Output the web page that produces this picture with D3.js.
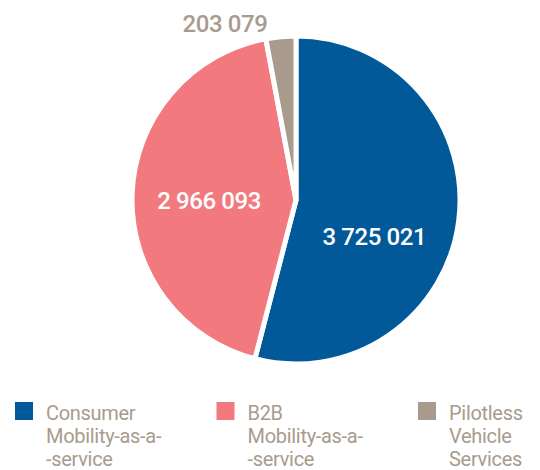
<!DOCTYPE html>
<html>
<head>
<meta charset="utf-8">
<script src="https://cdn.jsdelivr.net/npm/d3@7"></script>
<style>
  body { margin: 0; background: #fff; }
  svg { display: block; font-family: Roboto, "Noto Sans", sans-serif; }
</style>
</head>
<body>
<svg id="chart" width="540" height="470"></svg>
<script>
var categories = ["Consumer Mobility-as-a- -service", "B2B Mobility-as-a- -service", "Pilotless Vehicle Services"];
var legendLines = [["Consumer", "Mobility-as-a-", "-service"], ["B2B", "Mobility-as-a-", "-service"], ["Pilotless", "Vehicle", "Services"]];
var values = [3725021, 2966093, 203079];
var colors = ["#01599a", "#f27a7e", "#a89b8e"];

var svg = d3.select("#chart");
var cx = 296, cy = 200, radius = 164;

var fmt = function(v){ return d3.format(",")(v).replace(/,/g, " "); };

var pie = d3.pie().sort(null).value(function(d){ return d; });
var arcs = pie(values);

var arc = d3.arc().innerRadius(0).outerRadius(radius);
var labelArc = d3.arc().innerRadius(87).outerRadius(87);
var outerArc = d3.arc().innerRadius(178).outerRadius(178);

var g = svg.append("g").attr("transform", "translate(" + cx + "," + cy + ")");

g.selectAll(".slice")
  .data(arcs)
  .enter().append("path")
  .attr("class", "slice")
  .attr("d", arc)
  .attr("fill", function(d, i){ return colors[i]; })
  .attr("stroke", "#fff")
  .attr("stroke-width", 5)
  .attr("stroke-linejoin", "round");

// inside labels for the big slices, outside one for the small slice
var nudge = [[-8, 28], [0, 6]];
arcs.forEach(function(d, i){
  if (i < 2) {
    var c = labelArc.centroid(d);
    g.append("text")
      .attr("x", c[0] + nudge[i][0])
      .attr("y", c[1] + nudge[i][1])
      .attr("text-anchor", "middle")
      .attr("dominant-baseline", "middle")
      .attr("fill", "#fff")
      .attr("font-size", 24)
      .attr("letter-spacing", -0.4)
      .attr("font-weight", 500)
      .text(fmt(values[i]));
  } else {
    var o = outerArc.centroid(d);
    g.append("text")
      .attr("x", o[0] - 12)
      .attr("y", o[1] + 9)
      .attr("text-anchor", "end")
      .attr("fill", colors[i])
      .attr("font-size", 24)
      .attr("letter-spacing", -0.4)
      .attr("font-weight", 500)
      .text(fmt(values[i]));
  }
});

// legend
var legendX = d3.scalePoint().domain(categories).range([15, 418]);
var leg = svg.selectAll(".legend")
  .data(categories)
  .enter().append("g")
  .attr("class", "legend")
  .attr("transform", function(d){ return "translate(" + legendX(d) + ",402)"; });

leg.append("rect")
  .attr("width", 18).attr("height", 18)
  .attr("fill", function(d, i){ return colors[i]; });

leg.append("text")
  .attr("x", 31)
  .attr("y", 18)
  .attr("fill", "#a89b8e")
  .attr("font-size", 20)
  .attr("letter-spacing", -0.3)
  .selectAll("tspan")
  .data(function(d, i){ return legendLines[i]; })
  .enter().append("tspan")
  .attr("x", 31)
  .attr("dy", function(d, j){ return j === 0 ? 0 : 23; })
  .text(function(d){ return d; });
</script>
</body>
</html>
